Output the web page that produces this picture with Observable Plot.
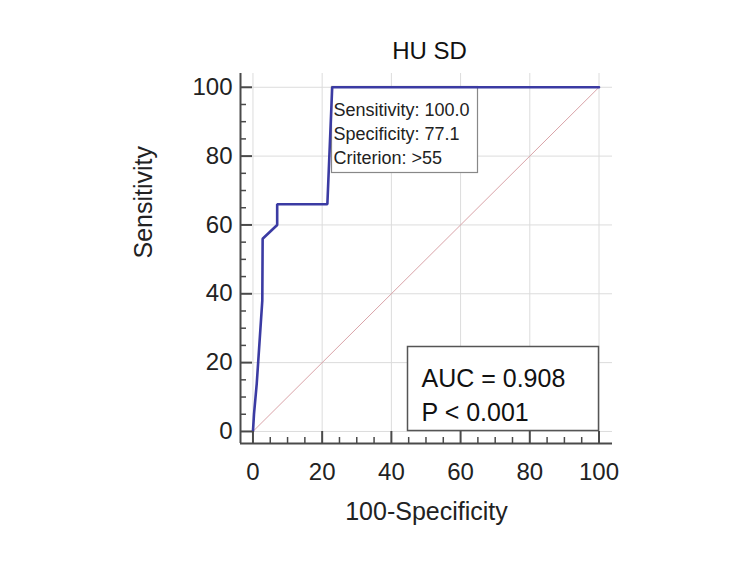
<!DOCTYPE html>
<html>
<head>
<meta charset="utf-8">
<script src="https://cdn.jsdelivr.net/npm/d3@7"></script>
<script src="https://cdn.jsdelivr.net/npm/@observablehq/plot@0.6"></script>
<style>
  html, body { margin: 0; padding: 0; background: #fff; }
  #chart { width: 750px; height: 562px; }
</style>
</head>
<body>
<div id="chart"></div>
<script>
// ROC curve points (100-Specificity, Sensitivity)
const fpr  = [0, 0.3, 1.1, 1.5, 2.7, 2.8, 7.0, 7.0, 21.5, 22.9, 100];
const sens = [0, 5, 14, 20, 38, 56, 60, 66, 66, 100, 100];
// reference diagonal
const diagX = [0, 100];
const diagY = [0, 100];
// ticks
const majorTicks = [0, 20, 40, 60, 80, 100];
const minorTicks = [5, 10, 15, 25, 30, 35, 45, 50, 55, 65, 70, 75, 85, 90, 95];
// texts
const titleText = "HU SD";
const xLabel = "100-Specificity";
const yLabel = "Sensitivity";
const criterionLines = ["Sensitivity: 100.0", "Specificity: 77.1", "Criterion: >55"];
const aucLines = ["AUC = 0.908", "P < 0.001"];

const xDomain = [-3.6, 103.9];
const yDomain = [-3.5, 104];

const curve = fpr.map((x, i) => ({x, y: sens[i]}));
const diag = diagX.map((x, i) => ({x, y: diagY[i]}));

const axisColor = "#4a4a4a";
const gridColor = "#dcdcdc";

const chart = Plot.plot({
  width: 750,
  height: 562,
  marginLeft: 240,
  marginRight: 138,
  marginTop: 73,
  marginBottom: 119,
  style: {fontFamily: "'Liberation Sans', Arial, sans-serif", fontSize: "24px", color: "#222", background: "#fff"},
  x: {domain: xDomain},
  y: {domain: yDomain},
  marks: [
    // grid
    Plot.ruleX(majorTicks, {x: d => d, stroke: gridColor, strokeWidth: 1}),
    Plot.ruleY(majorTicks, {y: d => d, stroke: gridColor, strokeWidth: 1}),
    // diagonal
    Plot.line(diag, {x: "x", y: "y", stroke: "#d9a3a8", strokeWidth: 1}),
    // AUC box
    Plot.frame({fill: "white", stroke: "#555", strokeWidth: 1.5, insetLeft: 167, insetRight: 14, insetTop: 273, insetBottom: 13}),
    Plot.text([aucLines.join("\n")], {frameAnchor: "top-left", dx: 181, dy: 289, text: d => d, textAnchor: "start", lineAnchor: "top", lineHeight: 1.36, fontSize: 25, fill: "#111"}),
    // criterion box
    Plot.frame({fill: "white", stroke: "#888", strokeWidth: 1.2, insetLeft: 91, insetRight: 135, insetTop: 13, insetBottom: 271}),
    Plot.text([criterionLines.join("\n")], {frameAnchor: "top-left", dx: 93, dy: 26, text: d => d, textAnchor: "start", lineAnchor: "top", lineHeight: 1.33, fontSize: 18, fill: "#222"}),
    // ROC curve
    Plot.line(curve, {x: "x", y: "y", stroke: "#3b3ba3", strokeWidth: 2.6, strokeLinejoin: "miter"}),
    // axis lines
    Plot.ruleX([xDomain[0]], {x: d => d, stroke: axisColor, strokeWidth: 2}),
    Plot.ruleY([yDomain[0]], {y: d => d, stroke: axisColor, strokeWidth: 2}),
    // inward ticks
    Plot.ruleX(majorTicks, {x: d => d, insetTop: 358, stroke: axisColor, strokeWidth: 2}),
    Plot.ruleX(minorTicks, {x: d => d, insetTop: 364, stroke: axisColor, strokeWidth: 1.5}),
    Plot.ruleY(majorTicks, {y: d => d, insetRight: 360, stroke: axisColor, strokeWidth: 2}),
    Plot.ruleY(minorTicks, {y: d => d, insetRight: 366, stroke: axisColor, strokeWidth: 1.5}),
    // tick labels
    Plot.axisX({ticks: majorTicks, tickSize: 0, tickPadding: 19, fontSize: 24, label: null, fill: "#222"}),
    Plot.axisY({ticks: majorTicks, tickSize: 0, tickPadding: 8, fontSize: 24, label: null, fill: "#222"}),
    // axis labels and title
    Plot.text([xLabel], {frameAnchor: "bottom", dy: 68, text: d => d, lineAnchor: "middle", fontSize: 25, fill: "#222"}),
    Plot.text([yLabel], {frameAnchor: "left", dx: -97, text: d => d, rotate: -90, lineAnchor: "middle", fontSize: 25, fill: "#222"}),
    Plot.text([titleText], {frameAnchor: "top", dx: 3, dy: -22, text: d => d, lineAnchor: "middle", fontSize: 24, fill: "#111"})
  ]
});
document.getElementById("chart").appendChild(chart);
</script>
</body>
</html>
